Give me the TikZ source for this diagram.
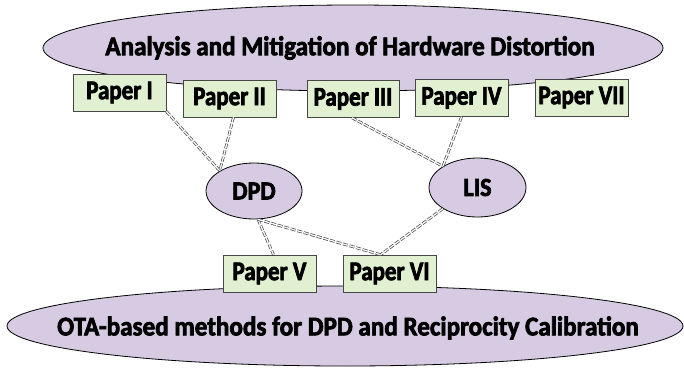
\documentclass[tikz,border=0pt]{standalone}
\usepackage{fontspec}
\setmainfont{Carlito}
\newfontfamily\bigf{Carlito}[FakeStretch=0.93,FakeBold=2.6]
\newfontfamily\smallf{Carlito}[FakeStretch=0.85,FakeBold=2.6]
\usetikzlibrary{shapes.geometric,calc}
\definecolor{ellfill}{RGB}{214,203,226}
\definecolor{boxfill}{RGB}{226,240,210}
\definecolor{linegray}{RGB}{70,70,70}
\tikzset{
  bigell/.style={ellipse, draw=black, line width=0.8pt, fill=ellfill, inner sep=0pt},
  smallell/.style={ellipse, draw=black, line width=0.8pt, fill=ellfill, inner sep=0pt, font=\bigf\bfseries\fontsize{26}{28}\selectfont},
  bigtext/.style={font=\bigf\bfseries\fontsize{27}{29}\selectfont, inner sep=0pt},
  paperbox/.style={rectangle, draw=linegray, line width=0.6pt, fill=boxfill, minimum width=93pt, minimum height=37pt, inner xsep=1pt, inner ysep=2pt, font=\smallf\bfseries\fontsize{27}{29}\selectfont},
  link/.style={draw=linegray, line width=0.7pt, double=white, double distance=1.3pt, dash pattern=on 5pt off 1.8pt}
}
\begin{document}
\begin{tikzpicture}[x=1pt,y=-1pt]
\useasboundingbox (0,0) rectangle (684,367);
% big ellipses
\node[bigell, minimum width=620pt, minimum height=86pt] (top) at (353,48) {};
\node[bigtext] (toptext) at (350,48) {Analysis and Mitigation of Hardware Distortion};
\node[bigell, minimum width=676pt, minimum height=80pt] (bot) at (345,326) {};
\node[bigtext] (bottext) at (348,328) {OTA-based methods for DPD and Reciprocity Calibration};
% paper boxes
\node[paperbox] (p1) at (119.5,92.5) {Paper I};
\node[paperbox] (p2) at (229.5,98.5) {Paper II};
\node[paperbox, minimum width=92pt] (p3) at (353,99) {Paper III};
\node[paperbox] (p4) at (461.5,98) {Paper IV};
\node[paperbox] (p7) at (581.5,97.5) {Paper VII};
\node[paperbox] (p5) at (269.5,273.5) {Paper V};
\node[paperbox] (p6) at (389.5,273.5) {Paper VI};
% small ellipses
\node[smallell, minimum width=96pt, minimum height=56pt] (dpd) at (254,191) {DPD};
\node[smallell, minimum width=97pt, minimum height=59pt] (lis) at (477.5,187.5) {LIS};
% connection points
\coordinate (dpdin) at (dpd.north west);
\coordinate (dpdout) at ($(dpd.south)+(4,0)$);
\coordinate (lisin) at (lis.north west);
\coordinate (lisout) at (lis.south west);
\coordinate (p2out) at ($(p2.south)+(4,0)$);
\coordinate (p3out) at ($(p3.south)+(-1,0)$);
\coordinate (p6in) at ($(p6.north)+(-9,0)$);
\coordinate (p5in) at ($(p5.north)+(4,0)$);
% links
\draw[link] (p1.south east) -- (dpdin);
\draw[link] (p2out) -- (dpdin);
\draw[link] (p3out) -- (lisin);
\draw[link] (p4.south) -- (lisin);
\draw[link] (dpdout) -- (p5in);
\draw[link] (dpdout) -- (p6in);
\draw[link] (lisout) -- (p6in);
\end{tikzpicture}
\end{document}
